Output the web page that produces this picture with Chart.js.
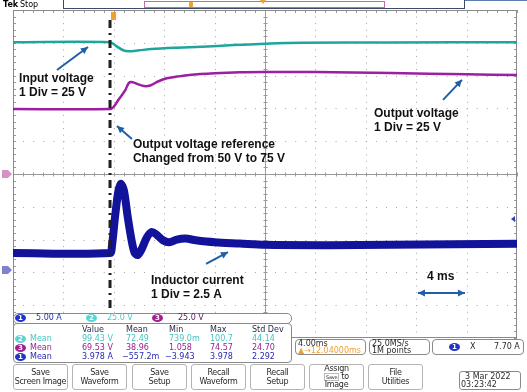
<!DOCTYPE html>
<html>
<head>
<meta charset="utf-8">
<script src="https://cdn.jsdelivr.net/npm/chart.js@4.4.1/dist/chart.umd.min.js"></script>
<style>
  html, body { margin: 0; padding: 0; background: #fff; }
  #wrap { position: relative; width: 527px; height: 392px; overflow: hidden; font-family: "DejaVu Sans", sans-serif; }
  #scope { position: absolute; left: 0; top: 0; }
  .box { position: absolute; background: #fff; border: 1px solid #8a8a8a; border-radius: 4px; box-sizing: border-box; }
  .t { position: absolute; font-size: 8px; line-height: 9px; white-space: nowrap; }
  .dot { position: absolute; width: 11px; height: 8px; border-radius: 50%; color: #fff; font-size: 7px; line-height: 8px; text-align: center; font-weight: bold; }
  .btn { position: absolute; top: 364px; width: 55px; height: 26px; border: 1px solid #b4b4b4; border-radius: 3px; box-sizing: border-box;
         font-size: 8px; line-height: 9px; color: #2a2a2a; text-align: center; padding-top: 3px; background: #fff;
         white-space: nowrap; letter-spacing: -0.3px; overflow: hidden; }
</style>
</head>
<body>
<div id="wrap">
  <canvas id="scope" width="527" height="392"></canvas>

  <!-- header -->
  <div class="t" style="left:3px;top:0px;font-weight:bold;font-size:8px;">Tek</div>
  <div class="t" style="left:20px;top:0px;font-size:8px;">Stop</div>
  <div style="position:absolute;left:63px;top:0;width:402px;height:9px;border:1px solid #3a4a6a;border-top:none;box-sizing:border-box;"></div>
  <div style="position:absolute;left:144px;top:1px;width:241px;height:7px;border:1px solid #c868a8;box-sizing:border-box;"></div>
  <div style="position:absolute;left:465px;top:0;width:62px;height:1px;background:#5a7fb0;"></div>
  <div style="position:absolute;left:189px;top:2px;width:4px;height:5px;background:#f0a030;border-radius:1px;"></div>
  <div style="position:absolute;left:260px;top:0;width:0;height:0;border-left:3px solid transparent;border-right:3px solid transparent;border-top:4px solid #f0a030;"></div>

  <!-- channel bar -->
  <div class="box" style="left:13px;top:313px;width:279px;height:11px;border-radius:5px;"></div>
  <div class="dot" style="left:15px;top:314px;background:#2034c8;">1</div>
  <div class="t" style="left:36px;top:313px;color:#2030b0;">5.00 A</div>
  <div class="dot" style="left:86px;top:314px;background:#58d4d4;">2</div>
  <div class="t" style="left:107px;top:313px;color:#50c4c4;">25.0 V</div>
  <div class="dot" style="left:152px;top:314px;background:#a02090;">3</div>
  <div class="t" style="left:178px;top:313px;color:#5a1a5a;">25.0 V</div>

  <!-- measurement table -->
  <div class="box" style="left:13px;top:323px;width:279px;height:40px;"></div>
  <div class="t" style="left:82px;top:325px;color:#2a2a4a;">Value</div>
  <div class="t" style="left:126px;top:325px;color:#2a2a4a;">Mean</div>
  <div class="t" style="left:169px;top:325px;color:#2a2a4a;">Min</div>
  <div class="t" style="left:210px;top:325px;color:#2a2a4a;">Max</div>
  <div class="t" style="left:252px;top:325px;color:#2a2a4a;">Std Dev</div>
  <div id="rows"></div>

  <!-- right info boxes -->
  <div class="box" style="left:295px;top:339px;width:71px;height:16px;"></div>
  <div class="t" style="left:298px;top:339px;color:#2a2a2a;">4.00ms</div>
  <div class="t" style="left:298px;top:346px;color:#f0a030;">&#9650;&#8594;12.04000ms</div>
  <div class="box" style="left:369px;top:339px;width:61px;height:16px;"></div>
  <div class="t" style="left:372px;top:339px;color:#2a2a2a;">25.0MS/s</div>
  <div class="t" style="left:372px;top:346px;color:#2a2a2a;">1M points</div>
  <div class="box" style="left:432px;top:339px;width:92px;height:16px;"></div>
  <div class="dot" style="left:449px;top:343px;background:#2034c8;">1</div>
  <div class="t" style="left:470px;top:342px;color:#2a2a2a;">X</div>
  <div class="t" style="left:494px;top:342px;color:#2a2a2a;">7.70 A</div>

  <!-- buttons -->
  <div class="btn" style="left:13px;">Save<br>Screen Image</div>
  <div class="btn" style="left:72px;">Save<br>Waveform</div>
  <div class="btn" style="left:132px;">Save<br>Setup</div>
  <div class="btn" style="left:191px;">Recall<br>Waveform</div>
  <div class="btn" style="left:250px;">Recall<br>Setup</div>
  <div class="btn" style="left:309px;padding-top:0;line-height:8px;">Assign<br><span style="font-size:5px;border:1px solid #bbb;padding:0 1px;line-height:5px;">Save</span> to<br>Image</div>
  <div class="btn" style="left:368px;">File<br>Utilities</div>
  <div class="box" style="left:459px;top:371px;width:62px;height:19px;border-radius:3px;"></div>
  <div class="t" style="left:465px;top:372px;color:#2a2a2a;">3 Mar 2022</div>
  <div class="t" style="left:461px;top:380px;color:#2a2a2a;">03:23:42</div>
</div>

<script>
// screen: 10 div x 4 ms, vertical in divisions from centre
const timeMin = 0;
const timeMax = 40;
const divMin = -5;
const divMax = 5;
const triggerTime = 7.7;

// CH2 input voltage (25 V/div)
const inTime = [0, 7.7, 8.2, 8.7, 9.2, 10.0, 11.0, 13.0, 15.0, 17.5, 20.0, 23.0, 30.0, 40.0];
const inDiv  = [4.02, 4.02, 3.90, 3.78, 3.74, 3.77, 3.81, 3.85, 3.88, 3.93, 3.97, 4.00, 4.01, 4.02];

// CH3 output voltage (25 V/div)
const outTime = [0, 7.7, 8.0, 8.4, 8.9, 9.2, 9.5, 9.9, 10.4, 10.9, 11.5, 12.2, 13.0, 14.0, 16.0, 18.0, 20.0, 24.0, 30.0, 36.0, 40.0];
const outDiv  = [1.98, 1.98, 2.05, 2.28, 2.55, 2.78, 2.80, 2.74, 2.68, 2.70, 2.82, 2.92, 2.97, 3.02, 3.07, 3.10, 3.11, 3.11, 3.08, 3.04, 3.02];

// CH1 inductor current (2.5 A/div)
const curTime = [0, 7.7, 7.85, 8.1, 8.35, 8.55, 8.8, 9.1, 9.4, 9.65, 9.9, 10.2, 10.6, 11.0, 11.4, 11.9, 12.4, 13.0, 13.7, 14.5, 16.0, 18.0, 20.0, 25.0, 30.0, 35.0, 40.0];
const curDiv  = [-2.41, -2.41, -2.2, -1.3, -0.55, -0.3, -0.5, -1.3, -2.0, -2.4, -2.47, -2.3, -1.95, -1.77, -1.85, -2.02, -2.08, -2.0, -1.97, -2.02, -2.08, -2.12, -2.16, -2.17, -2.16, -2.14, -2.13];

// ground markers on left edge
const ch3Ground = 0;
const ch1Ground = -2.93;

// measurement rows
const measNames  = ['Mean', 'Mean', 'Mean'];
const measChan   = ['2', '3', '1'];
const measValue  = ['99.43 V', '69.53 V', '3.978 A'];
const measMean   = ['72.49', '38.96', '\u2212557.2m'];
const measMin    = ['739.0m', '1.058', '\u22123.943'];
const measMax    = ['100.7', '74.57', '3.978'];
const measStd    = ['44.14', '24.70', '2.292'];
const measColor  = ['#48c4c4', '#9a2094', '#2828b0'];
const measDot    = ['#58d4d4', '#a02090', '#2034c8'];

// text notes in (ms, div)
const notes = [
  { x: 0.48, y: 2.90, text: 'Input voltage' },
  { x: 0.48, y: 2.47, text: '1 Div = 25 V' },
  { x: 28.65, y: 1.83, text: 'Output voltage' },
  { x: 28.65, y: 1.40, text: '1 Div = 25 V' },
  { x: 9.52, y: 0.88, text: 'Output voltage reference' },
  { x: 9.52, y: 0.46, text: 'Changed from 50 V to 75 V' },
  { x: 10.95, y: -3.26, text: 'Inductor current' },
  { x: 10.95, y: -3.69, text: '1 Div = 2.5 A' },
  { x: 32.86, y: -3.14, text: '4 ms' }
];
const arrows = [
  { x1: 3.49, y1: 3.17, x2: 5.95, y2: 3.87, both: false },
  { x1: 34.13, y1: 2.26, x2: 35.63, y2: 2.87, both: false },
  { x1: 9.44, y1: 1.07, x2: 8.25, y2: 1.46, both: false },
  { x1: 15.32, y1: -2.74, x2: 17.06, y2: -2.38, both: false },
  { x1: 32.14, y1: -3.63, x2: 35.87, y2: -3.63, both: true }
];

// build measurement rows
const rowsEl = document.getElementById('rows');
const rowTop = [334, 343, 352];
const colLeft = [82, 126, 169, 210, 252];
for (let i = 0; i < 3; i++) {
  const cells = [measValue[i], measMean[i], measMin[i], measMax[i], measStd[i]];
  let html = `<div class="dot" style="left:15px;top:${rowTop[i] + 1}px;background:${measDot[i]};">${measChan[i]}</div>`;
  html += `<div class="t" style="left:30px;top:${rowTop[i]}px;color:${measColor[i]};">${measNames[i]}</div>`;
  cells.forEach((c, j) => {
    let left = colLeft[j];
    if (c.startsWith('\u2212')) left -= 4;
    html += `<div class="t" style="left:${left}px;top:${rowTop[i]}px;color:${measColor[i]};">${c}</div>`;
  });
  rowsEl.insertAdjacentHTML('beforeend', html);
}

function toPoints(xs, ys) {
  return xs.map((x, i) => ({ x: x, y: ys[i] }));
}

function drawArrowHead(ctx, fx, fy, tx, ty) {
  const ang = Math.atan2(ty - fy, tx - fx);
  const len = 7, w = 3.5;
  ctx.beginPath();
  ctx.moveTo(tx, ty);
  ctx.lineTo(tx - len * Math.cos(ang) + w * Math.sin(ang), ty - len * Math.sin(ang) - w * Math.cos(ang));
  ctx.lineTo(tx - len * Math.cos(ang) - w * Math.sin(ang), ty - len * Math.sin(ang) + w * Math.cos(ang));
  ctx.closePath();
  ctx.fill();
}

function drawMarker(ctx, py, color) {
  ctx.fillStyle = color;
  ctx.beginPath();
  ctx.moveTo(2, py - 4);
  ctx.lineTo(8, py - 4);
  ctx.lineTo(12, py);
  ctx.lineTo(8, py + 4);
  ctx.lineTo(2, py + 4);
  ctx.closePath();
  ctx.fill();
}

// graticule
const scopeGrid = {
  id: 'scopeGrid',
  beforeDatasetsDraw(chart) {
    const { ctx, chartArea: a, scales: { x, y } } = chart;
    const divX = x.getPixelForValue(4) - x.getPixelForValue(0);
    const divY = y.getPixelForValue(0) - y.getPixelForValue(1);
    ctx.save();
    ctx.lineWidth = 1;
    ctx.strokeStyle = '#a4a4a4';
    ctx.setLineDash([1, divY / 5 - 1]);
    for (let k = 1; k < 10; k++) {
      if (k === 5) continue;
      const px = Math.round(x.getPixelForValue(k * 4)) + 0.5;
      ctx.beginPath(); ctx.moveTo(px, a.top); ctx.lineTo(px, a.bottom); ctx.stroke();
    }
    ctx.setLineDash([1, divX / 5 - 1]);
    for (let k = -4; k <= 4; k++) {
      if (k === 0) continue;
      const py = Math.round(y.getPixelForValue(k)) + 0.5;
      ctx.beginPath(); ctx.moveTo(a.left, py); ctx.lineTo(a.right, py); ctx.stroke();
    }
    ctx.setLineDash([]);
    const cx = Math.round(x.getPixelForValue(20)) + 0.5;
    const cy = Math.round(y.getPixelForValue(0)) + 0.5;
    ctx.strokeStyle = '#9a9a9a';
    ctx.beginPath();
    ctx.moveTo(cx, a.top); ctx.lineTo(cx, a.bottom);
    ctx.moveTo(a.left, cy); ctx.lineTo(a.right, cy);
    // minor ticks on centre lines and border
    for (let t = 0; t <= 50; t++) {
      const px = Math.round(a.left + t * divX / 5) + 0.5;
      ctx.moveTo(px, cy - 2); ctx.lineTo(px, cy + 2);
      ctx.moveTo(px, a.top); ctx.lineTo(px, a.top + 3);
    }
    for (let t = 0; t <= 50; t++) {
      const py = Math.round(a.top + t * divY / 5) + 0.5;
      ctx.moveTo(cx - 2, py); ctx.lineTo(cx + 2, py);
      ctx.moveTo(a.left, py); ctx.lineTo(a.left + 3, py);
      ctx.moveTo(a.right - 3, py); ctx.lineTo(a.right, py);
    }
    ctx.stroke();
    ctx.strokeStyle = '#8a8a8a';
    ctx.strokeRect(a.left + 0.5, a.top + 0.5, a.right - a.left - 1, a.bottom - a.top - 1);
    ctx.restore();
  },
  afterDatasetsDraw(chart) {
    const { ctx, chartArea: a, scales: { x, y } } = chart;
    ctx.save();
    // trigger line
    const tx = x.getPixelForValue(triggerTime);
    ctx.strokeStyle = '#202020';
    ctx.lineWidth = 3;
    ctx.setLineDash([8, 5, 2, 5]);
    ctx.beginPath(); ctx.moveTo(tx, a.top + 10); ctx.lineTo(tx, a.bottom); ctx.stroke();
    ctx.setLineDash([]);
    ctx.fillStyle = '#f0a030';
    ctx.fillRect(tx + 1, a.top + 2, 5, 8);

    // channel markers
    drawMarker(ctx, y.getPixelForValue(ch3Ground), '#d890c8');
    drawMarker(ctx, y.getPixelForValue(ch1Ground), '#8080d0');
    ctx.fillStyle = '#3040b0';
    const ry = y.getPixelForValue(-1.37);
    ctx.beginPath(); ctx.moveTo(a.right - 6, ry); ctx.lineTo(a.right - 2, ry - 3); ctx.lineTo(a.right - 2, ry + 3); ctx.closePath(); ctx.fill();

    // arrows
    ctx.strokeStyle = '#1f5ea8';
    ctx.fillStyle = '#1f5ea8';
    ctx.lineWidth = 2;
    arrows.forEach(ar => {
      const x1 = x.getPixelForValue(ar.x1), y1 = y.getPixelForValue(ar.y1);
      const x2 = x.getPixelForValue(ar.x2), y2 = y.getPixelForValue(ar.y2);
      ctx.beginPath(); ctx.moveTo(x1, y1); ctx.lineTo(x2, y2); ctx.stroke();
      drawArrowHead(ctx, x1, y1, x2, y2);
      if (ar.both) drawArrowHead(ctx, x2, y2, x1, y1);
    });

    // notes
    ctx.fillStyle = '#111';
    ctx.font = 'bold 12px "Liberation Sans", Arial, sans-serif';
    ctx.textBaseline = 'middle';
    notes.forEach(n => {
      ctx.fillText(n.text, x.getPixelForValue(n.x), y.getPixelForValue(n.y));
    });
    ctx.restore();
  }
};

new Chart(document.getElementById('scope'), {
  type: 'line',
  data: {
    datasets: [
      {
        label: 'Inductor current',
        data: toPoints(curTime, curDiv),
        borderColor: '#12129a',
        borderWidth: 8,
        pointRadius: 0,
        tension: 0.3
      },
      {
        label: 'Output voltage',
        data: toPoints(outTime, outDiv),
        borderColor: '#9c1ea2',
        borderWidth: 2.5,
        pointRadius: 0,
        tension: 0.3
      },
      {
        label: 'Input voltage',
        data: toPoints(inTime, inDiv),
        borderColor: '#1ea69e',
        borderWidth: 2.5,
        pointRadius: 0,
        tension: 0.3
      }
    ]
  },
  options: {
    responsive: false,
    devicePixelRatio: 1,
    animation: false,
    layout: { padding: { left: 13, right: 10, top: 10, bottom: 54 } },
    scales: {
      x: { type: 'linear', min: timeMin, max: timeMax, display: false },
      y: { type: 'linear', min: divMin, max: divMax, display: false }
    },
    plugins: {
      legend: { display: false },
      tooltip: { enabled: false }
    }
  },
  plugins: [scopeGrid]
});
</script>
</body>
</html>
